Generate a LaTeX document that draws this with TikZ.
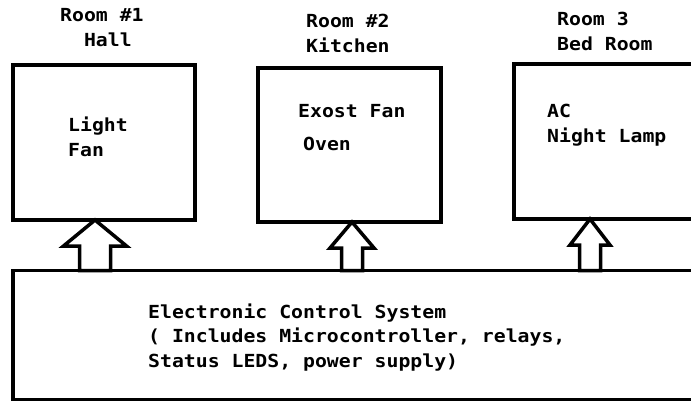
\documentclass[tikz,border=0pt]{standalone}
\usepackage{fontspec}
\newfontfamily\roomfont{DejaVu Sans Mono}[FakeStretch=1.1]
\usetikzlibrary{calc}
\begin{document}
\begin{tikzpicture}[x=1pt,y=-1pt,
  box/.style={draw,line width=3.5pt,inner sep=0pt,outer sep=0pt},
  lbl/.style={inner sep=0pt,align=left,anchor=north west,
    font=\roomfont\bfseries\fontsize{18}{25}\selectfont},
  blockarrow/.style={draw,line width=3.5pt,line join=miter}]
  \clip (0,0) rectangle (691,402);
  % rooms
  \node[box,minimum width=182pt,minimum height=155pt] (hall) at (104,142.5) {};
  \node[box,minimum width=183pt,minimum height=154pt] (kitchen) at (349.5,145) {};
  \node[box,minimum width=206pt,minimum height=155pt] (bed) at (617,141.5) {};
  \node[box,minimum width=707pt,minimum height=129pt] (ecs) at (366.5,335) {};
  % labels
  \node[lbl] (hallname) at (60,8.5) {Room \#1\\~~Hall};
  \node[lbl] (kitchenname) at (306,13.5) {Room \#2\\Kitchen};
  \node[lbl] (bedname) at (557,11.5) {Room 3\\Bed Room};
  \node[lbl] (hallload) at (68,116.5) {Light\\Fan};
  \node[lbl,anchor=base west] (kitchenfan) at (298,117) {Exost Fan};
  \node[lbl,anchor=base west] (kitchenoven) at (303,150.5) {Oven};
  \node[lbl] (bedload) at (547,103.5) {AC\\Night Lamp};
  \node[lbl,font=\roomfont\bfseries\fontsize{18}{24.5}\selectfont] (ecstext) at (148,303.5)
    {Electronic Control System\\( Includes Microcontroller, relays,\\Status LEDS, power supply)};
  % arrows up to the rooms
  \coordinate (t1) at ($(hall.south west)+(82,0)$);
  \coordinate (t2) at ($(kitchen.south west)+(94,0)$);
  \coordinate (t3) at ($(bed.south west)+(76,0)$);
  \foreach \t/\h/\s in {t1/31.5/15.5,t2/22/10.5,t3/20/10.5}
    \draw[blockarrow] (\t) -- ++(\h,26) -- ++({\s-\h},0)
      -- ($(ecs.north -| \t)+(\s,0)$) -- ($(ecs.north -| \t)+(-\s,0)$)
      -- ($(\t)+(-\s,26)$) -- ($(\t)+(-\h,26)$) -- cycle;
\end{tikzpicture}
\end{document}
